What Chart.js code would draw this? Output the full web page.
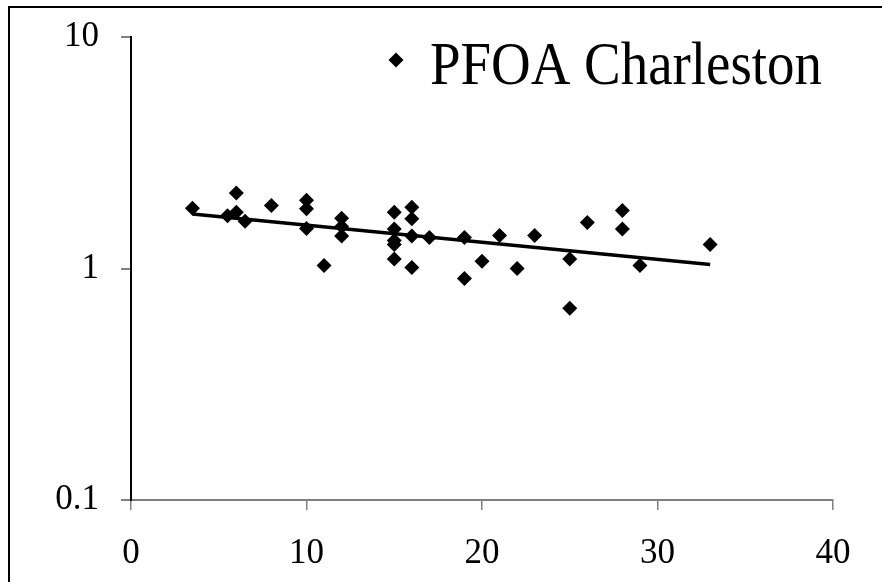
<!DOCTYPE html>
<html>
<head>
<meta charset="utf-8">
<title>PFOA Charleston</title>
<script src="https://cdn.jsdelivr.net/npm/chart.js@4.4.0/dist/chart.umd.min.js"></script>
<style>
  html, body { margin: 0; padding: 0; background: #fff; }
  #wrap { position: relative; width: 882px; height: 582px; overflow: hidden; background: #fff; }
  #frame { position: absolute; left: 8px; top: 6px; width: 900px; height: 600px;
           border-left: 2px solid #000; border-top: 2px solid #000; }
  #grafica { position: absolute; left: 0; top: 0; }
</style>
</head>
<body>
<div id="wrap">
  <div id="frame"></div>
  <canvas id="grafica" width="882" height="582"></canvas>
</div>
<script>
  // edad (años) y PFOA medido
  const ageYears = [3.5, 5.5, 6, 6, 6.5, 8, 10, 10, 10, 11, 12, 12, 12,
    15, 15, 15, 15, 15, 16, 16, 16, 16, 17, 19, 19, 20, 21, 22, 23,
    25, 25, 26, 28, 28, 29, 33];
  const pfoaLevels = [1.82, 1.69, 2.12, 1.75, 1.60, 1.87, 1.97, 1.81, 1.49, 1.03, 1.65, 1.52, 1.38,
    1.75, 1.48, 1.32, 1.27, 1.10, 1.84, 1.64, 1.38, 1.01, 1.36, 1.36, 0.906, 1.075, 1.39, 1.00, 1.39,
    1.10, 0.673, 1.58, 1.78, 1.48, 1.03, 1.27];

  // linea de tendencia (exponencial, recta en escala log)
  const trendX = [3.5, 33];
  const trendY = [1.72, 1.04];

  const xTicks = [0, 10, 20, 30, 40];
  const yTicks = [0.1, 1, 10];

  const serif = 'Liberation Serif, Times New Roman, serif';

  const points = ageYears.map((x, i) => ({ x: x, y: pfoaLevels[i] }));
  const trend = trendX.map((x, i) => ({ x: x, y: trendY[i] }));

  // leyenda dentro del area del grafico
  const legendBox = {
    id: 'legendBox',
    afterDraw(chart) {
      const ctx = chart.ctx;
      ctx.save();
      ctx.fillStyle = '#000';
      const cx = 396, cy = 60, r = 7.5;
      ctx.beginPath();
      ctx.moveTo(cx - r, cy);
      ctx.lineTo(cx, cy - r);
      ctx.lineTo(cx + r, cy);
      ctx.lineTo(cx, cy + r);
      ctx.closePath();
      ctx.fill();
      ctx.font = '62px ' + serif;
      ctx.textBaseline = 'alphabetic';
      ctx.fillText(chart.data.datasets[0].label, 430, 84, 392);
      ctx.restore();
    }
  };

  const config = {
    type: 'scatter',
    data: {
      datasets: [{
        label: 'PFOA Charleston',
        data: points,
        pointStyle: 'rectRot',
        pointRadius: 7.5,
        backgroundColor: '#000',
        borderColor: '#000',
        borderWidth: 0
      }, {
        label: 'tendencia',
        data: trend,
        showLine: true,
        pointRadius: 0,
        borderColor: '#000',
        borderWidth: 3.5,
        fill: false
      }]
    },
    options: {
      responsive: false,
      animation: false,
      layout: { padding: { left: 0, right: 49, top: 37, bottom: 0 } },
      plugins: {
        legend: { display: false },
        tooltip: { enabled: false }
      },
      scales: {
        x: {
          type: 'linear',
          min: 0,
          max: 40,
          afterBuildTicks: (s) => { s.ticks = xTicks.map(v => ({ value: v })); },
          afterFit: (s) => { s.height = 82; s.paddingLeft = 0; s.paddingRight = 0; },
          grid: { drawOnChartArea: false, drawTicks: true, tickLength: 10, color: '#808080', lineWidth: 1.5 },
          border: { display: true, color: '#808080', width: 2 },
          ticks: { color: '#000', font: { family: serif, size: 35 }, padding: 23, maxRotation: 0 }
        },
        y: {
          type: 'logarithmic',
          min: 0.1,
          max: 10,
          afterBuildTicks: (s) => { s.ticks = yTicks.map(v => ({ value: v })); },
          afterFit: (s) => { s.width = 131; s.paddingTop = 0; s.paddingBottom = 0; },
          grid: { drawOnChartArea: false, drawTicks: true, tickLength: 10, color: '#808080', lineWidth: 2 },
          border: { display: true, color: '#000', width: 2 },
          ticks: { color: '#000', font: { family: serif, size: 35 }, padding: 22,
            callback: (v) => String(v) }
        }
      }
    },
    plugins: [legendBox]
  };

  const myChart = new Chart(document.getElementById('grafica'), config);
</script>
</body>
</html>
